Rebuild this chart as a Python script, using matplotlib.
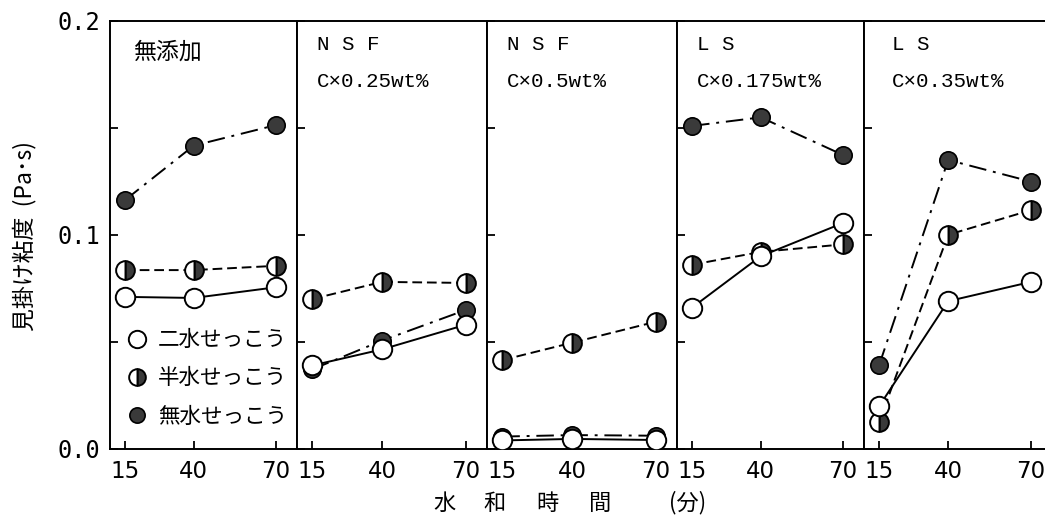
import matplotlib
matplotlib.use("Agg")
import matplotlib.pyplot as plt
from matplotlib.lines import Line2D

# ---- data ----
times = [15, 40, 70]
panel_line1 = ["無添加", "N S F", "N S F", "L S", "L S"]
panel_line2 = ["", "C×0.25wt%", "C×0.5wt%", "C×0.175wt%", "C×0.35wt%"]

dihydrate = [  # 二水せっこう
    [0.0710, 0.0705, 0.0755],
    [0.0390, 0.0465, 0.0580],
    [0.0040, 0.0047, 0.0042],
    [0.0660, 0.0900, 0.1055],
    [0.0200, 0.0690, 0.0780],
]
hemihydrate = [  # 半水せっこう
    [0.0835, 0.0835, 0.0855],
    [0.0700, 0.0780, 0.0775],
    [0.0415, 0.0496, 0.0594],
    [0.0860, 0.0920, 0.0955],
    [0.0128, 0.1000, 0.1115],
]
anhydrite = [  # 無水せっこう
    [0.1162, 0.1416, 0.1512],
    [0.0372, 0.0506, 0.0649],
    [0.0058, 0.0065, 0.0062],
    [0.1508, 0.1548, 0.1372],
    [0.0392, 0.1349, 0.1248],
]
legend_labels = ["二水せっこう", "半水せっこう", "無水せっこう"]
ylabel = "見掛け粘度  (Pa･s)"
xlabel_parts = ["水", "和", "時", "間", "(分)"]

CJK = ["Noto Sans CJK JP", "DejaVu Sans"]
DARK = "#3a3a3a"

W, H = 1045, 525
fig = plt.figure(figsize=(W / 100, H / 100), dpi=100)

lefts = [110, 297, 487, 677, 864]
widths = [187, 190, 190, 187, 188]
y_bot, y_top = 449, 20.5

style_open = dict(marker="o", ms=14, mfc="white", mec="black", mew=1.4)
style_half = dict(marker="o", ms=13.5, fillstyle="right", mfc=DARK,
                  markerfacecoloralt="white", mec="black", mew=1.4)
style_full = dict(marker="o", ms=12.5, mfc=DARK, mec="black", mew=1.2)

axes = []
for i in range(5):
    ax = fig.add_axes([lefts[i] / W, 1 - y_bot / H, widths[i] / W, (y_bot - y_top) / H])
    axes.append(ax)
    ax.plot(times, anhydrite[i], color="black", lw=1.4,
            dashes=(9, 3.5, 1.5, 3.5), zorder=3, **style_full)
    ax.plot(times, hemihydrate[i], color="black", lw=1.4,
            dashes=(5, 2.5), zorder=4, **style_half)
    ax.plot(times, dihydrate[i], color="black", lw=1.4, ls="-", zorder=5, **style_open)
    ax.set_xlim(9.5, 77.6)
    ax.set_ylim(0, 0.2)
    ax.set_xticks(times)
    ax.set_xticklabels([str(t) for t in times])
    ax.set_yticks([0.0, 0.1, 0.2])
    ax.set_yticks([0.05, 0.15], minor=True)
    ax.tick_params(axis="both", which="both", direction="in", length=6, width=1.3)
    ax.tick_params(axis="x", pad=8, labelsize=16.5)
    for lab in ax.get_xticklabels():
        lab.set_fontfamily("DejaVu Sans")
    if i == 0:
        ax.set_yticklabels(["0.0", "0.1", "0.2"])
        ax.tick_params(axis="y", pad=7, labelsize=17)
        for lab in ax.get_yticklabels():
            lab.set_fontfamily("DejaVu Sans Mono")
    else:
        ax.tick_params(axis="y", labelleft=False)
    for s in ax.spines.values():
        s.set_linewidth(1.4)

    off = 23 if i == 0 else (28 if i == 4 else 20)
    if i == 0:
        ax.text(off / widths[i], 0.926, panel_line1[i], transform=ax.transAxes,
                fontsize=16.5, family=CJK, va="center", ha="left")
    else:
        ax.text(off / widths[i], 0.945, panel_line1[i], transform=ax.transAxes,
                fontsize=15, family=["Liberation Mono"], va="center", ha="left")
        ax.text(off / widths[i], 0.858, panel_line2[i], transform=ax.transAxes,
                fontsize=15, family=["Liberation Mono"], va="center", ha="left")

# legend in first panel
handles = [
    Line2D([], [], ls="none", **{**style_open, "ms": 12.5}),
    Line2D([], [], ls="none", **{**style_half, "ms": 12}),
    Line2D([], [], ls="none", **{**style_full, "ms": 11}),
]
leg = axes[0].legend(handles, legend_labels, loc="lower left",
                     bbox_to_anchor=(0.02, 0.02), frameon=False,
                     handlelength=1.0, handletextpad=0.45, labelspacing=0.75,
                     borderaxespad=0.2, prop={"family": CJK, "size": 15.5})

fig.text(25 / W, 1 - 236 / H, ylabel, rotation=90, ha="center", va="center",
         fontsize=16.5, family=CJK)

xs = [445, 495, 547, 600, 688]
for x, t in zip(xs, xlabel_parts):
    fig.text(x / W, 1 - 503 / H, t, ha="center", va="center", fontsize=16, family=CJK)

fig.savefig("out.png", dpi=100)
